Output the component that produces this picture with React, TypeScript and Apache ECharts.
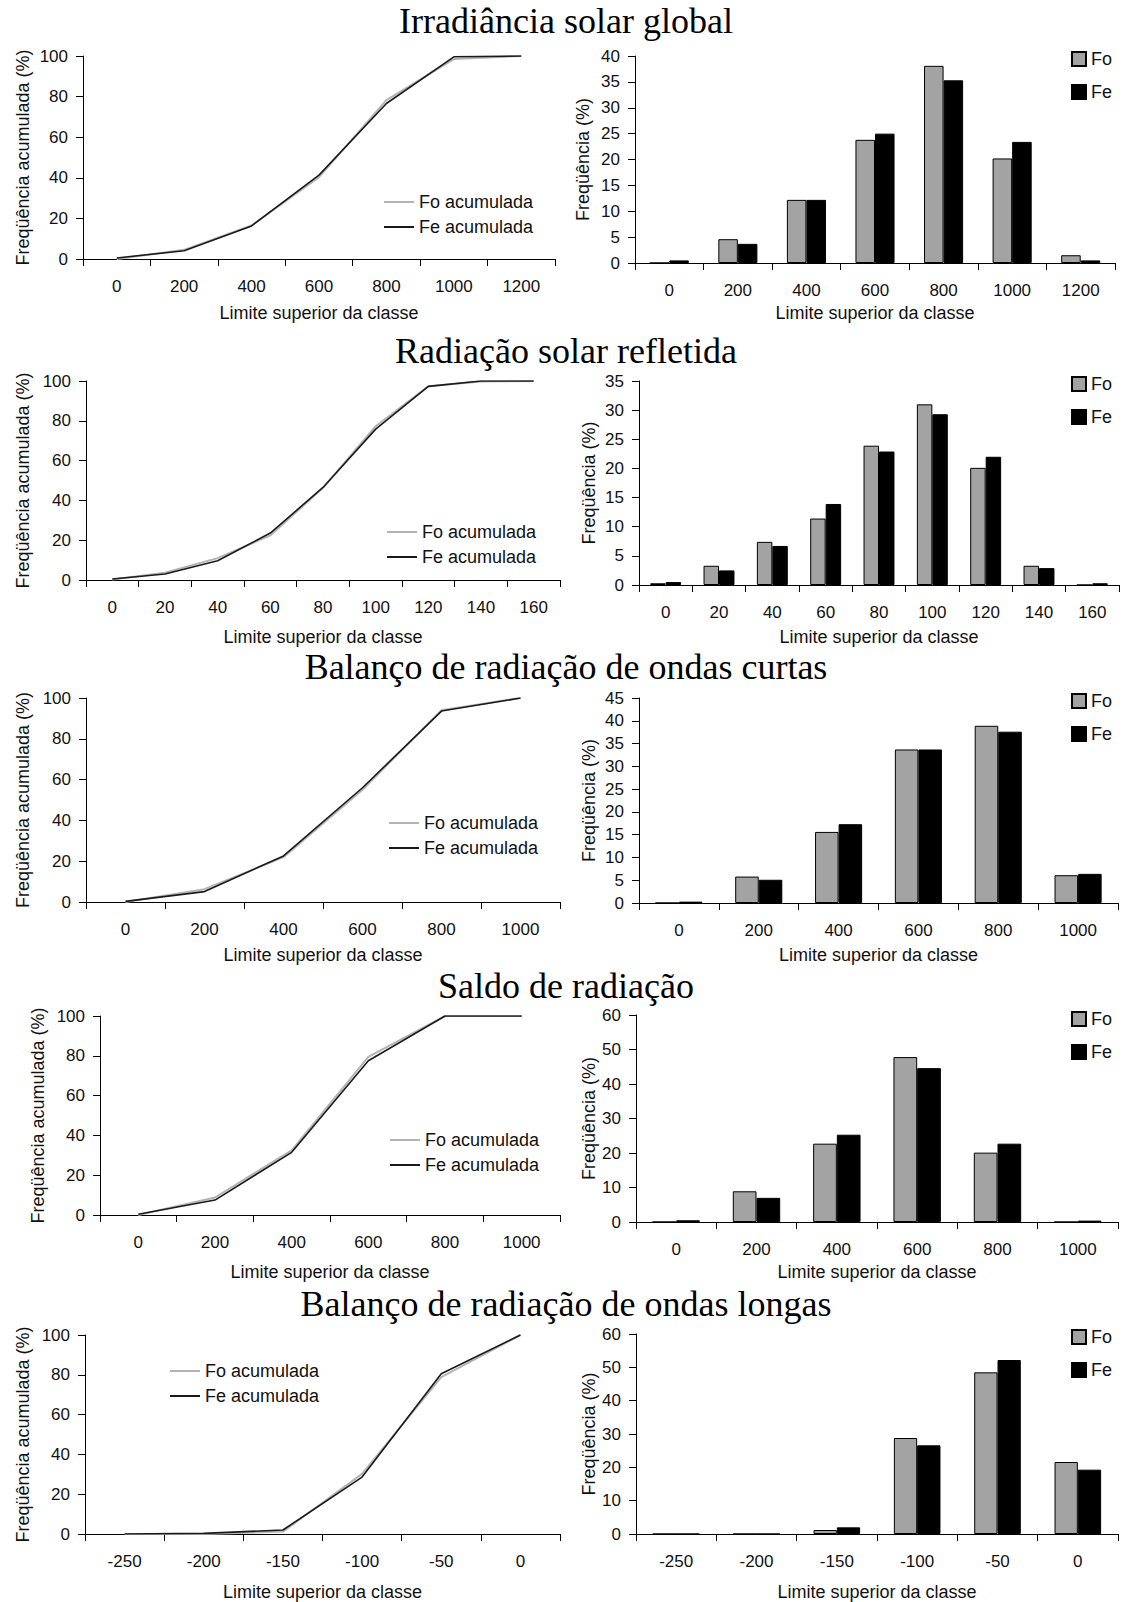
import React, { useEffect, useRef } from "react";
import * as echarts from "echarts";

// ---------- DATA ----------
const titles = [
  "Irradiância solar global",
  "Radiação solar refletida",
  "Balanço de radiação de ondas curtas",
  "Saldo de radiação",
  "Balanço de radiação de ondas longas",
];

const cats1 = ["0", "200", "400", "600", "800", "1000", "1200"];
const foCum1 = [0, 4.5, 16.5, 40.3, 78.3, 98.5, 100];
const feCum1 = [0.5, 4.1, 16.3, 41.3, 76.6, 99.6, 100];
const fo1 = [0, 4.6, 12.2, 23.8, 38.1, 20.2, 1.5];
const fe1 = [0.5, 3.7, 12.2, 25.0, 35.3, 23.4, 0.5];

const cats2 = ["0", "20", "40", "60", "80", "100", "120", "140", "160"];
const foCum2 = [0.3, 3.6, 11, 22.4, 46.3, 77.3, 97.4, 99.8, 100];
const feCum2 = [0.5, 3.0, 9.7, 23.6, 46.5, 75.8, 97.3, 100, 100];
const fo2 = [0.3, 3.3, 7.4, 11.4, 23.9, 31.0, 20.1, 3.3, 0];
const fe2 = [0.5, 2.5, 6.7, 13.9, 22.9, 29.3, 22.0, 2.9, 0.3];

const cats3 = ["0", "200", "400", "600", "800", "1000"];
const foCum3 = [0, 6.3, 22, 55, 94, 100];
const feCum3 = [0.3, 5.1, 22.6, 56, 93.6, 100];
const fo3 = [0, 5.8, 15.6, 33.7, 38.9, 6.1];
const fe3 = [0.3, 5.1, 17.3, 33.7, 37.6, 6.4];

const cats4 = ["0", "200", "400", "600", "800", "1000"];
const foCum4 = [0, 8.8, 32.5, 79.5, 100, 100];
const feCum4 = [0.4, 7.5, 31.5, 77.5, 100, 100];
const fo4 = [0, 8.9, 22.7, 47.8, 20.1, 0];
const fe4 = [0.5, 7.0, 25.3, 44.6, 22.7, 0.4];

const cats5 = ["-250", "-200", "-150", "-100", "-50", "0"];
const foCum5 = [0, 0, 1.2, 30.2, 78.8, 100];
const feCum5 = [0, 0.3, 2.0, 28.6, 80.5, 100];
const fo5 = [0, 0, 1.2, 28.8, 48.5, 21.6];
const fe5 = [0, 0, 2.0, 26.6, 52.2, 19.3];

const barMax = [40, 35, 45, 60, 60];
const barStep = [5, 5, 5, 10, 10];

const lineLegendNames = ["Fo acumulada", "Fe acumulada"];

// ---------- LAYOUT ----------
const layout = [
  {
    titleY: 21,
    L: { left: 83, right: 555, top: 56, bottom: 259, gx: 45, gy: 51, legLeft: 384, legY: 202 },
    R: { left: 635, right: 1115, top: 56, bottom: 263, gx: 41, gy: 43, legTop: 50 },
    gap: "43%",
  },
  {
    titleY: 351,
    L: { left: 86, right: 560, top: 381, bottom: 580, gx: 48, gy: 54, legLeft: 387, legY: 532 },
    R: { left: 639, right: 1119, top: 381, bottom: 585, gx: 43, gy: 41, legTop: 375 },
    gap: "42%",
  },
  {
    titleY: 667,
    L: { left: 86, right: 560, top: 698, bottom: 902, gx: 44, gy: 54, legLeft: 389, legY: 823 },
    R: { left: 639, right: 1118, top: 698, bottom: 903, gx: 43, gy: 41, legTop: 692 },
    gap: "41%",
  },
  {
    titleY: 986,
    L: { left: 100, right: 560, top: 1016, bottom: 1215, gx: 48, gy: 53, legLeft: 390, legY: 1140 },
    R: { left: 636, right: 1118, top: 1015, bottom: 1222, gx: 41, gy: 38, legTop: 1010 },
    gap: "41%",
  },
  {
    titleY: 1304,
    L: { left: 85, right: 560, top: 1335, bottom: 1534, gx: 49, gy: 53, legLeft: 170, legY: 1371 },
    R: { left: 636, right: 1118, top: 1334, bottom: 1534, gx: 49, gy: 38, legTop: 1328 },
    gap: "42%",
  },
];

const SANS = '"Liberation Sans", Arial, Helvetica, sans-serif';
const SERIF = '"Liberation Serif", "Times New Roman", serif';
const INK = "#111";
const FO_LINE = "#b4b4b4";
const FE_LINE = "#1a1a1a";

function buildOption() {
  const panels = [
    { cats: cats1, foCum: foCum1, feCum: feCum1, fo: fo1, fe: fe1 },
    { cats: cats2, foCum: foCum2, feCum: feCum2, fo: fo2, fe: fe2 },
    { cats: cats3, foCum: foCum3, feCum: feCum3, fo: fo3, fe: fe3 },
    { cats: cats4, foCum: foCum4, feCum: feCum4, fo: fo4, fe: fe4 },
    { cats: cats5, foCum: foCum5, feCum: feCum5, fo: fo5, fe: fe5 },
  ];

  const grid: any[] = [];
  const xAxis: any[] = [];
  const yAxis: any[] = [];
  const series: any[] = [];
  const legend: any[] = [];
  const graphic: any[] = [];

  const axisLine = { show: true, lineStyle: { color: "#000", width: 1 } };
  const axisTick = { show: true, length: 7, lineStyle: { color: "#000", width: 1 } };

  const xAx = (gi: number, cats: string[], gap: number) => ({
    type: "category",
    gridIndex: gi,
    data: cats,
    boundaryGap: true,
    axisLine,
    axisTick: { ...axisTick, alignWithLabel: false, interval: 0 },
    axisLabel: { interval: 0, margin: 19, fontSize: 17, fontFamily: SANS, color: INK },
    splitLine: { show: false },
    name: "Limite superior da classe",
    nameLocation: "middle",
    nameGap: gap,
    nameTextStyle: { fontSize: 18, fontFamily: SANS, color: INK },
  });

  const yAx = (gi: number, max: number, step: number, name: string, gap: number) => ({
    type: "value",
    gridIndex: gi,
    min: 0,
    max,
    interval: step,
    axisLine,
    axisTick: { ...axisTick, inside: false },
    axisLabel: { margin: 15, fontSize: 17, fontFamily: SANS, color: INK },
    splitLine: { show: false },
    name,
    nameLocation: "middle",
    nameGap: gap,
    nameTextStyle: { fontSize: 18, fontFamily: SANS, color: INK },
  });

  panels.forEach((p, i) => {
    const lay = layout[i];
    const gl = 2 * i;
    const gr = 2 * i + 1;
    grid.push({
      left: lay.L.left,
      top: lay.L.top,
      width: lay.L.right - lay.L.left,
      height: lay.L.bottom - lay.L.top,
      containLabel: false,
    });
    grid.push({
      left: lay.R.left,
      top: lay.R.top,
      width: lay.R.right - lay.R.left,
      height: lay.R.bottom - lay.R.top,
      containLabel: false,
    });
    xAxis.push(xAx(gl, p.cats, lay.L.gx));
    xAxis.push(xAx(gr, p.cats, lay.R.gx));
    yAxis.push(yAx(gl, 100, 20, "Freqüência acumulada (%)", lay.L.gy));
    yAxis.push(yAx(gr, barMax[i], barStep[i], "Freqüência (%)", lay.R.gy));

    series.push({
      type: "line",
      name: lineLegendNames[0],
      xAxisIndex: gl,
      yAxisIndex: gl,
      data: p.foCum,
      symbol: "none",
      lineStyle: { color: FO_LINE, width: 2 },
      itemStyle: { color: FO_LINE },
      z: 2,
    });
    series.push({
      type: "line",
      name: lineLegendNames[1],
      xAxisIndex: gl,
      yAxisIndex: gl,
      data: p.feCum,
      symbol: "none",
      lineStyle: { color: FE_LINE, width: 1.6 },
      itemStyle: { color: FE_LINE },
      z: 3,
    });
    series.push({
      type: "bar",
      name: "Fo",
      xAxisIndex: gr,
      yAxisIndex: gr,
      data: p.fo,
      barGap: "0%",
      barCategoryGap: lay.gap,
      itemStyle: { color: "#a3a3a3", borderColor: "#000", borderWidth: 1 },
    });
    series.push({
      type: "bar",
      name: "Fe",
      xAxisIndex: gr,
      yAxisIndex: gr,
      data: p.fe,
      barGap: "0%",
      barCategoryGap: lay.gap,
      itemStyle: { color: "#000", borderColor: "#000", borderWidth: 1 },
    });

    // line legend drawn as graphic (line sample + label)
    const legColors = [FO_LINE, FE_LINE];
    lineLegendNames.forEach((nm, k) => {
      const y = lay.L.legY + k * 25;
      graphic.push({
        type: "line",
        shape: { x1: lay.L.legLeft, y1: y, x2: lay.L.legLeft + 30, y2: y },
        style: { stroke: legColors[k], lineWidth: 2 },
      });
      graphic.push({
        type: "text",
        x: lay.L.legLeft + 35,
        y,
        style: {
          text: nm,
          fontSize: 18,
          fontFamily: SANS,
          fill: INK,
          align: "left",
          verticalAlign: "middle",
          textAlign: "left",
          textVerticalAlign: "middle",
        },
      });
    });

    legend.push({
      data: [
        { name: "Fo", icon: "rect" },
        { name: "Fe", icon: "rect" },
      ],
      orient: "vertical",
      left: 1071,
      top: lay.R.legTop,
      padding: 0,
      itemWidth: 14,
      itemHeight: 14,
      itemGap: 15,
      selectedMode: false,
      textStyle: { fontSize: 18, fontFamily: SANS, color: INK, lineHeight: 14 },
    });

    graphic.push({
      type: "text",
      x: 566,
      y: lay.titleY,
      style: {
        text: titles[i],
        fontSize: 36,
        fontFamily: SERIF,
        fill: "#000",
        align: "center",
        verticalAlign: "middle",
        textAlign: "center",
        textVerticalAlign: "middle",
      },
    });
  });

  return {
    animation: false,
    backgroundColor: "#fff",
    grid,
    xAxis,
    yAxis,
    series,
    legend,
    graphic,
  };
}

export default function App() {
  const ref = useRef<HTMLDivElement>(null);
  useEffect(() => {
    if (!ref.current) return;
    const chart = echarts.init(ref.current, undefined, { renderer: "svg" });
    chart.setOption(buildOption() as any);
    return () => chart.dispose();
  }, []);
  return (
    <div
      ref={ref}
      style={{ position: "absolute", left: 0, top: 0, width: 1125, height: 1602, background: "#fff" }}
    />
  );
}
